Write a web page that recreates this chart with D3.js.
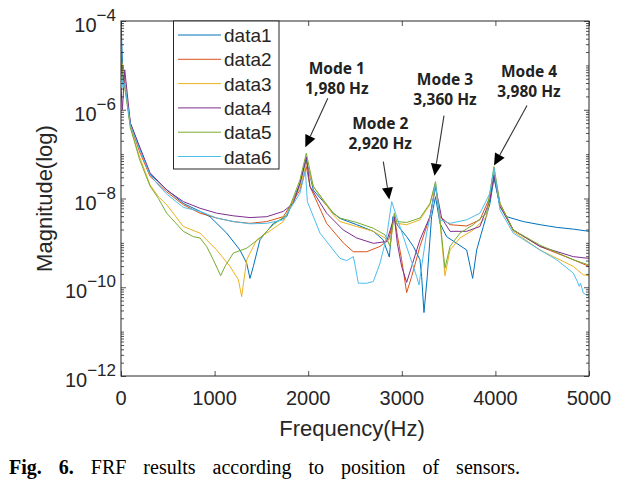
<!DOCTYPE html>
<html><head><meta charset="utf-8">
<script src="https://cdn.jsdelivr.net/npm/d3@7"></script>
<style>
html,body{margin:0;padding:0;background:#fff;}
svg{display:block;}
</style>
</head><body>
<svg id="chart" width="631" height="484"></svg>
<script>
// ---- data (log10 of magnitude) ----
const seriesNames = ["data1","data2","data3","data4","data5","data6"];
const seriesColors = ["#0072BD","#D95319","#EDB120","#7E2F8E","#77AC30","#4DBEEE"];

const data1Hz = [0,20,40,100,200,310,488,666,844,951,1129,1271,1343,1378,1414,1485,1628,1770,1912,1980,2055,2268,2340,2518,2696,2800,2867,2905,2963,3052,3123,3194,3212,3237,3272,3318,3360,3408,3479,3586,3693,3757,3800,3871,3942,3985,4049,4120,4298,4476,4654,4832,5000];
const data1Log = [-4.0,-5.2,-5.4,-6.3,-6.86,-7.45,-7.8,-8.11,-8.29,-8.41,-8.78,-9.16,-9.46,-9.8,-9.53,-8.93,-8.56,-8.41,-7.66,-7.13,-7.81,-8.33,-8.45,-8.59,-8.74,-8.93,-9.32,-8.41,-8.63,-8.86,-9.08,-9.38,-9.76,-10.57,-9.76,-8.41,-7.96,-8.56,-8.86,-9.01,-9.16,-9.8,-9.16,-8.63,-8.11,-7.54,-8.18,-8.41,-8.52,-8.59,-8.65,-8.69,-8.74];

const data2Hz = [0,20,40,100,200,310,488,666,844,1022,1200,1378,1557,1734,1912,1980,2019,2197,2375,2482,2625,2767,2860,2920,2955,2998,3052,3105,3194,3301,3360,3408,3515,3693,3835,3942,3985,4049,4191,4476,4832,5000];
const data2Log = [-4.8,-5.3,-5.4,-6.35,-6.95,-7.5,-7.85,-8.14,-8.33,-8.44,-8.52,-8.56,-8.52,-8.41,-7.81,-7.28,-7.73,-8.56,-9.0,-9.2,-9.2,-9.08,-8.93,-8.41,-8.86,-9.38,-10.12,-9.76,-9.08,-8.41,-7.73,-8.41,-8.59,-8.62,-8.48,-7.96,-7.43,-8.11,-8.71,-9.08,-9.38,-9.53];

const data3Hz = [0,20,40,100,200,310,400,488,666,844,1022,1165,1254,1289,1343,1450,1557,1734,1912,1980,2055,2268,2340,2518,2696,2821,2875,2920,2945,3052,3194,3300,3360,3408,3461,3515,3621,3764,3906,3985,4049,4191,4476,4832,4939,5000];
const data3Log = [-4.9,-5.0,-5.3,-6.4,-7.07,-7.69,-7.96,-8.14,-8.63,-8.78,-9.16,-9.53,-9.83,-10.21,-9.38,-8.93,-8.78,-8.52,-7.73,-7.21,-7.73,-8.37,-8.52,-8.63,-8.74,-8.89,-9.05,-8.37,-8.56,-8.59,-8.48,-8.14,-7.66,-8.52,-9.74,-9.16,-8.89,-8.71,-8.41,-7.39,-8.14,-8.74,-9.16,-9.53,-9.72,-9.74];

const data4Hz = [0,15,40,100,200,310,488,666,844,1022,1200,1378,1557,1734,1841,1912,1980,2019,2197,2375,2518,2696,2838,2920,2952,2998,3052,3105,3194,3301,3360,3426,3515,3693,3835,3942,3985,4049,4191,4476,4832,5000];
const data4Log = [-5.5,-6.0,-5.1,-6.3,-6.84,-7.42,-7.81,-8.07,-8.22,-8.33,-8.39,-8.43,-8.41,-8.29,-8.11,-7.66,-7.06,-7.73,-8.33,-8.71,-8.89,-9.01,-8.97,-8.41,-9.01,-9.53,-9.89,-9.53,-8.93,-8.41,-7.73,-8.44,-8.74,-8.74,-8.63,-8.03,-7.47,-8.18,-8.71,-9.08,-9.31,-9.35];

const data5Hz = [0,20,40,100,200,310,400,488,666,773,844,915,986,1065,1111,1200,1343,1485,1628,1770,1912,1980,2055,2268,2340,2518,2696,2821,2875,2920,2945,3052,3194,3301,3360,3408,3461,3515,3621,3764,3906,3985,4049,4191,4476,4832,5000];
const data5Log = [-4.6,-5.4,-5.5,-6.4,-7.13,-7.72,-8.0,-8.33,-8.74,-8.86,-8.89,-9.08,-9.38,-9.74,-9.53,-9.23,-9.12,-8.89,-8.59,-8.37,-7.58,-6.98,-7.73,-8.33,-8.44,-8.54,-8.67,-8.82,-9.08,-8.33,-8.52,-8.54,-8.44,-8.11,-7.62,-8.48,-9.57,-9.08,-8.78,-8.59,-8.33,-7.28,-8.11,-8.71,-9.05,-9.38,-9.5];

const data6Hz = [0,20,40,100,200,310,400,488,666,844,1022,1200,1378,1557,1734,1912,1970,1991,2126,2268,2340,2411,2482,2500,2536,2625,2696,2767,2838,2892,2945,3016,3087,3159,3184,3212,3265,3318,3360,3408,3515,3693,3835,3942,3985,4049,4191,4476,4654,4832,4875,4896,4910,4939,5000];
const data6Log = [-5.0,-5.5,-5.4,-6.35,-6.9,-7.46,-7.7,-7.9,-8.2,-8.29,-8.44,-8.52,-8.57,-8.56,-8.48,-7.88,-7.36,-8.07,-8.78,-9.16,-9.35,-9.4,-9.31,-9.5,-9.91,-9.91,-9.87,-9.46,-8.86,-8.07,-8.41,-8.86,-9.31,-9.76,-9.95,-9.53,-8.78,-8.26,-7.66,-8.48,-8.56,-8.48,-8.33,-7.88,-7.32,-8.26,-8.78,-9.16,-9.38,-9.68,-9.87,-9.98,-9.91,-10.13,-10.21];

const xTicks = [0,1000,2000,3000,4000,5000];
const yTickExps = [-4,-6,-8,-10,-12];
const modeLabels = ["Mode 1","Mode 2","Mode 3","Mode 4"];
const modeFreqLabels = ["1,980 Hz","2,920 Hz","3,360 Hz","3,980 Hz"];
const modeHz = [1980,2920,3360,3980];

// ---- layout ----
const M = {left:121, top:21, right:589, bottom:376};
const svg = d3.select("#chart");
const x = d3.scaleLinear().domain([0,5000]).range([M.left, M.right]);
const y = d3.scaleLog().domain([1e-12,1e-4]).range([M.bottom, M.top]);
const axisColor = "#262626";
const tickFont = "'Liberation Sans', Arial, sans-serif";

const hzArr = [data1Hz,data2Hz,data3Hz,data4Hz,data5Hz,data6Hz];
const logArr = [data1Log,data2Log,data3Log,data4Log,data5Log,data6Log];
const series = seriesNames.map((n,i)=>({name:n, color:seriesColors[i],
  pts: hzArr[i].map((h,j)=>({hz:h, v:Math.pow(10, logArr[i][j])}))}));

svg.append("defs").append("clipPath").attr("id","clip")
  .append("rect").attr("x",M.left).attr("y",M.top)
  .attr("width",M.right-M.left).attr("height",M.bottom-M.top);

// lines
const line = d3.line().x(d=>x(d.hz)).y(d=>y(d.v));
const gl = svg.append("g").attr("clip-path","url(#clip)");
series.forEach(s=>{
  gl.append("path").attr("d",line(s.pts)).attr("fill","none")
    .attr("stroke",s.color).attr("stroke-width",1).attr("stroke-linejoin","round");
});

// axes (inward ticks, box)
const minorVals = [];
for(let e=-12;e<-4;e++) for(let k=2;k<=9;k++) minorVals.push(k*Math.pow(10,e));
for(let e=-11;e<-4;e+=2) minorVals.push(Math.pow(10,e));
const majorVals = yTickExps.map(e=>Math.pow(10,e));

function yAxisG(axisFn, tx){
  const g = svg.append("g").attr("transform",`translate(${tx},0)`);
  g.call(axisFn(y).tickValues(minorVals).tickSize(3).tickFormat(""));
  g.selectAll(".domain").remove();
  const g2 = svg.append("g").attr("transform",`translate(${tx},0)`);
  g2.call(axisFn(y).tickValues(majorVals).tickSize(5).tickFormat(""));
  g2.selectAll(".domain").remove();
  [g,g2].forEach(gg=>gg.selectAll("line").attr("stroke",axisColor).attr("stroke-width",0.8));
}
yAxisG(d3.axisRight, M.left);
yAxisG(d3.axisLeft, M.right);

const gxb = svg.append("g").attr("transform",`translate(0,${M.bottom})`)
  .call(d3.axisTop(x).tickValues(xTicks).tickSize(5).tickFormat(""));
const gxt = svg.append("g").attr("transform",`translate(0,${M.top})`)
  .call(d3.axisBottom(x).tickValues(xTicks).tickSize(5).tickFormat(""));
[gxb,gxt].forEach(g=>{g.selectAll(".domain").remove();
  g.selectAll("line").attr("stroke",axisColor).attr("stroke-width",0.8);});

svg.append("rect").attr("x",M.left).attr("y",M.top)
  .attr("width",M.right-M.left).attr("height",M.bottom-M.top)
  .attr("fill","none").attr("stroke",axisColor).attr("stroke-width",1);

// x tick labels
svg.append("g").selectAll("text").data(xTicks).join("text")
  .attr("x",d=>x(d)).attr("y",M.bottom+29).attr("text-anchor","middle")
  .attr("font-family",tickFont).attr("font-size",20).attr("fill",axisColor)
  .text(d=>d);

// y tick labels 10^e
yTickExps.forEach(e=>{
  const t = svg.append("text").attr("x",M.left-5).attr("y",y(Math.pow(10,e))+11)
    .attr("text-anchor","end").attr("font-family",tickFont).attr("fill",axisColor)
    .attr("font-size",20);
  t.append("tspan").text("10");
  t.append("tspan").attr("dy",-11).attr("font-size",17).text("\u2212" + String(-e));
});

// axis labels
svg.append("text").attr("x",(M.left+M.right)/2-3).attr("y",436)
  .attr("text-anchor","middle").attr("font-family",tickFont).attr("font-size",22)
  .attr("fill",axisColor).text("Frequency(Hz)");
svg.append("text").attr("transform",`translate(52,${(M.top+M.bottom)/2}) rotate(-90)`)
  .attr("text-anchor","middle").attr("font-family",tickFont).attr("font-size",22)
  .attr("fill",axisColor).text("Magnitude(log)");

// legend
const lg = svg.append("g");
lg.append("rect").attr("x",173.5).attr("y",M.top).attr("width",105.5).attr("height",148)
  .attr("fill","#fff").attr("stroke",axisColor).attr("stroke-width",1);
series.forEach((s,i)=>{
  const cy = 35 + i*24.3;
  lg.append("line").attr("x1",178).attr("x2",221).attr("y1",cy).attr("y2",cy)
    .attr("stroke",s.color).attr("stroke-width",1);
  lg.append("text").attr("x",224).attr("y",cy+7).attr("font-family",tickFont)
    .attr("font-size",19).attr("fill",axisColor).text(s.name);
});

// annotations
const annFont = "'Noto Sans', 'Open Sans', sans-serif";
const annCfg = [
  {tipDx:-1, gap:6, sx:22.5, sy:-49, tx:31.5, ty1:-73, ty2:-53},
  {tipDx:-5, gap:2, sx:-6, sy:-38, tx:-9, ty1:-71, ty2:-51},
  {tipDx:-1, gap:6, sx:9.5, sy:-60, tx:10.5, ty1:-91, ty2:-71},
  {tipDx:0.5, gap:1, sx:33, sy:-60, tx:35, ty1:-89, ty2:-69}
];
const ga = svg.append("g");
modeHz.forEach((hz,i)=>{
  let peak = 0;
  series.forEach(s=>s.pts.forEach(p=>{ if(Math.abs(p.hz-hz)<=40 && p.v>peak) peak=p.v; }));
  const c = annCfg[i];
  const tipX = x(hz)+c.tipDx, tipY = y(peak)-c.gap;
  const sxp = tipX+c.sx, syp = tipY+c.sy;
  const ang = Math.atan2(tipY-syp, tipX-sxp);
  const L = 12, W = 5.5;
  const bx = tipX - L*Math.cos(ang), by = tipY - L*Math.sin(ang);
  ga.append("line").attr("x1",sxp).attr("y1",syp).attr("x2",bx).attr("y2",by)
    .attr("stroke","#333").attr("stroke-width",1.1);
  const px = -Math.sin(ang), py = Math.cos(ang);
  ga.append("path").attr("d",`M${tipX},${tipY}L${bx+W*px},${by+W*py}L${bx-W*px},${by-W*py}Z`)
    .attr("fill","#000");
  ga.append("text").attr("x",tipX+c.tx).attr("y",tipY+c.ty1).attr("text-anchor","middle")
    .attr("font-family",annFont).attr("font-weight","bold").attr("font-size",15.5)
    .attr("fill","#222").text(modeLabels[i]);
  ga.append("text").attr("x",tipX+c.tx).attr("y",tipY+c.ty2).attr("text-anchor","middle")
    .attr("font-family",annFont).attr("font-weight","bold").attr("font-size",15.5)
    .attr("fill","#222").text(modeFreqLabels[i]);
});

// caption
const cap = svg.append("text").attr("x",9).attr("y",474)
  .attr("font-family","'Liberation Serif','Times New Roman',serif").attr("font-size",20)
  .attr("fill","#000").attr("word-spacing",12);
cap.append("tspan").attr("font-weight","bold").text("Fig. 6.");
cap.append("tspan").text(" FRF results according to position of sensors.");
</script>
</body></html>
